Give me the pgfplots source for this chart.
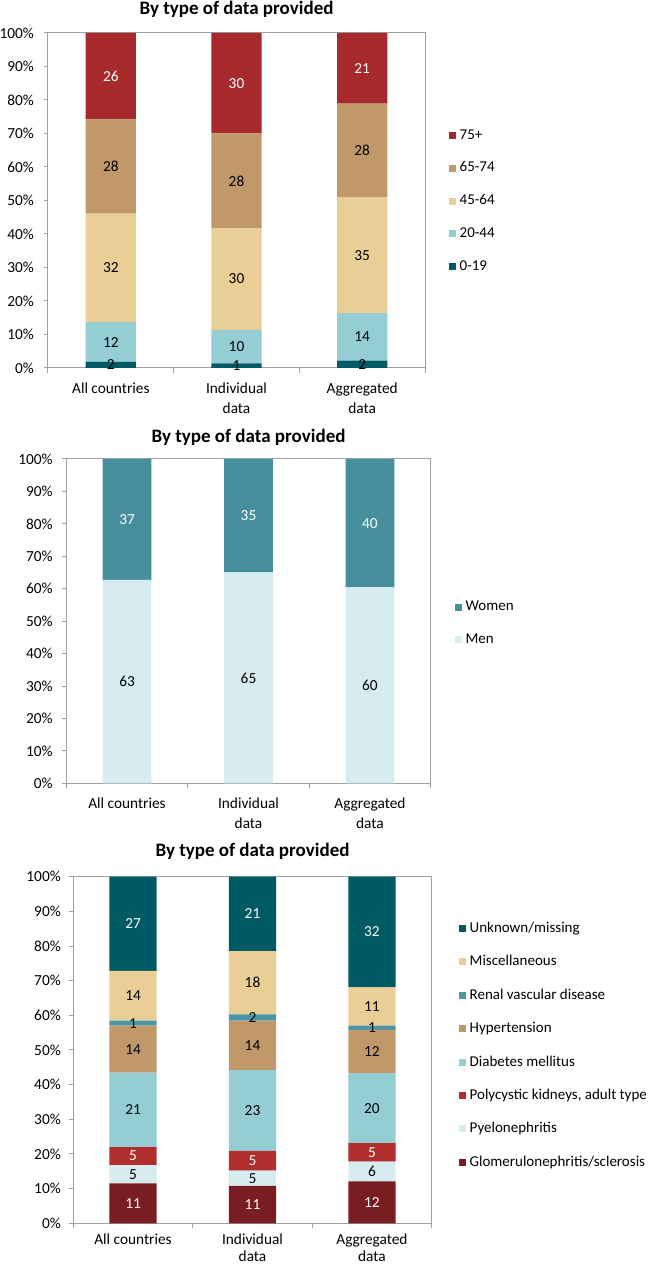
\documentclass[border=0pt]{standalone}
\usepackage{pgfplots}
\pgfplotsset{compat=1.18}
\usepackage{fontspec}
\setmainfont{Carlito}
\definecolor{cRed}{RGB}{166,42,44}
\definecolor{cTan}{RGB}{193,152,106}
\definecolor{cWheat}{RGB}{233,206,150}
\definecolor{cLTeal}{RGB}{148,205,210}
\definecolor{cDTeal}{RGB}{0,90,100}
\definecolor{cWomen}{RGB}{72,143,157}
\definecolor{cMen}{RGB}{214,236,238}
\definecolor{cRenal}{RGB}{74,150,164}
\definecolor{cPoly}{RGB}{176,46,46}
\definecolor{cGlom}{RGB}{120,30,34}
\definecolor{axgray}{RGB}{160,160,160}
\newcommand{\tf}{\fontsize{9.2}{12}\selectfont}
\newcommand{\lf}{\fontsize{9.0}{11}\selectfont}
\pgfplotsset{
  panel/.style={
    scale only axis, anchor=south west,
    xmin=-0.5, xmax=2.5, ymin=0, ymax=100,
    axis line style={axgray, line width=0.6pt},
    font=\tf,
    ytick={0,10,...,100},
    yticklabels={0\%,10\%,20\%,30\%,40\%,50\%,60\%,70\%,80\%,90\%,100\%},
    tick align=outside,
    ytick pos=left, xtick pos=bottom,
    major tick length=2.5pt,
    ytick style={draw=axgray, line width=0.6pt},
    xtick={0,1,2},
    xticklabels={All countries, Individual\\data, Aggregated\\data},
    xticklabel style={align=center, anchor=north, inner sep=0pt},
    xtick style={draw=none},
    extra x ticks={-0.5,0.5,1.5,2.5},
    extra x tick labels={},
    extra x tick style={major tick length=3pt, xtick style={draw=axgray, line width=0.6pt}},
    title style={font=\bfseries\fontsize{11.4}{13.7}\selectfont, anchor=base, at={(0.5,1)}},
    legend style={draw=none, fill=none, anchor=west, font=\lf, row sep=8.2pt, inner sep=0pt, cells={anchor=west}},
    legend cell align=left,
    reverse legend,
  },
  sq/.style={draw=none, fill=#1, legend image code/.code={\path[fill=#1] (0pt,-2.1pt) rectangle (4.2pt,2.1pt);}},
  labels/.style={scale only axis, anchor=south west, xmin=-0.5, xmax=2.5, ymin=0, ymax=100, hide axis, clip=false},
  wlab/.style={draw=none, mark=none, nodes near coords, point meta=explicit symbolic, nodes near coords align={center}, every node near coord/.append style={font=\tf, text=white, inner sep=0pt}},
  blab/.style={draw=none, mark=none, nodes near coords, point meta=explicit symbolic, nodes near coords align={center}, every node near coord/.append style={font=\tf, text=black, inner sep=0pt}},
}
\begin{document}
\begin{tikzpicture}
\useasboundingbox (0,0) rectangle (389.4pt,758.4pt);
% ---------- Panel 1: age ----------
\begin{axis}[panel, at={(28.8pt,537.6pt)}, width=226.2pt, height=201pt,
  ybar stacked, bar width=0.4,
  title={By type of data provided}, title style={yshift=4.8pt},
  legend style={at={(1.0637,0.4985)}},
  yticklabel style={xshift=-2.5pt}, xticklabel style={yshift=-6.5pt}]
\addplot[sq=cDTeal] coordinates {(0,1.8) (1,1.4) (2,2.2)};
\addplot[sq=cLTeal] coordinates {(0,11.9) (1,10.0) (2,14.2)};
\addplot[sq=cWheat] coordinates {(0,32.4) (1,30.3) (2,34.6)};
\addplot[sq=cTan] coordinates {(0,28.1) (1,28.3) (2,27.9)};
\addplot[sq=cRed] coordinates {(0,25.8) (1,30.0) (2,21.1)};
\legend{0-19,20-44,45-64,65-74,75+}
\end{axis}
\begin{axis}[labels, at={(28.8pt,537.6pt)}, width=226.2pt, height=201pt]
\addplot[blab] table[x=x,y=y,meta=l] {
x y l
0 0.9 2
1 0.7 1
2 1.1 2
0 7.75 12
1 6.4 10
2 9.3 14
0 29.9 32
1 26.55 30
2 33.7 35
0 60.15 28
1 55.85 28
2 64.95 28
};
\addplot[wlab] table[x=x,y=y,meta=l] {
x y l
0 87.1 26
1 85.0 30
2 89.45 21
};
\end{axis}
% ---------- Panel 2: sex ----------
\begin{axis}[panel, at={(39.78pt,288.42pt)}, width=218.64pt, height=194.58pt,
  ybar stacked, bar width=0.4,
  title={By type of data provided}, title style={yshift=4.1pt},
  legend style={at={(1.0667,0.4928)}},
  yticklabel style={xshift=-2.2pt}, xticklabel style={yshift=-6pt}]
\addplot[sq=cMen] coordinates {(0,62.7) (1,65.0) (2,60.4)};
\addplot[sq=cWomen] coordinates {(0,37.3) (1,35.0) (2,39.6)};
\legend{Men,Women}
\end{axis}
\begin{axis}[labels, at={(39.78pt,288.42pt)}, width=218.64pt, height=194.58pt]
\addplot[blab] table[x=x,y=y,meta=l] {
x y l
0 31.35 63
1 32.5 65
2 30.2 60
};
\addplot[wlab] table[x=x,y=y,meta=l] {
x y l
0 81.35 37
1 82.5 35
2 80.2 40
};
\end{axis}
% ---------- Panel 3: primary renal disease ----------
\begin{axis}[panel, at={(43.98pt,24.42pt)}, width=215.04pt, height=207.96pt,
  ybar stacked, bar width=0.395,
  title={By type of data provided}, title style={yshift=6pt},
  legend style={at={(1.0762,0.5133)}, row sep=8.3pt},
  yticklabel style={xshift=-1.5pt}, xticklabel style={yshift=-3.6pt, font=\fontsize{9.2}{10.3}\selectfont}]
\addplot[sq=cGlom] coordinates {(0,11.5) (1,10.8) (2,12.1)};
\addplot[sq=cMen] coordinates {(0,5.3) (1,4.4) (2,5.7)};
\addplot[sq=cPoly] coordinates {(0,5.2) (1,5.7) (2,5.3)};
\addplot[sq=cLTeal] coordinates {(0,21.5) (1,23.3) (2,20.2)};
\addplot[sq=cTan] coordinates {(0,13.5) (1,14.3) (2,12.5)};
\addplot[sq=cRenal] coordinates {(0,1.5) (1,1.8) (2,1.2)};
\addplot[sq=cWheat] coordinates {(0,14.3) (1,18.2) (2,11.1)};
\addplot[sq=cDTeal] coordinates {(0,27.2) (1,21.5) (2,31.9)};
\legend{Glomerulonephritis/sclerosis,Pyelonephritis,{Polycystic kidneys, adult type},Diabetes mellitus,Hypertension,Renal vascular disease,Miscellaneous,Unknown/missing}
\end{axis}
\begin{axis}[labels, at={(43.98pt,24.42pt)}, width=215.04pt, height=207.96pt]
\addplot[blab] table[x=x,y=y,meta=l] {
x y l
0 14.15 5
1 13.0 5
2 14.95 6
0 32.75 21
1 32.55 23
2 33.2 20
0 50.25 14
1 51.35 14
2 49.55 12
0 57.75 1
1 59.4 2
2 56.4 1
0 65.65 14
1 69.4 18
2 62.55 11
};
\addplot[wlab] table[x=x,y=y,meta=l] {
x y l
0 5.75 11
1 5.4 11
2 6.05 12
0 19.4 5
1 18.05 5
2 20.45 5
0 86.4 27
1 89.25 21
2 84.05 32
};
\end{axis}
\end{tikzpicture}
\end{document}
